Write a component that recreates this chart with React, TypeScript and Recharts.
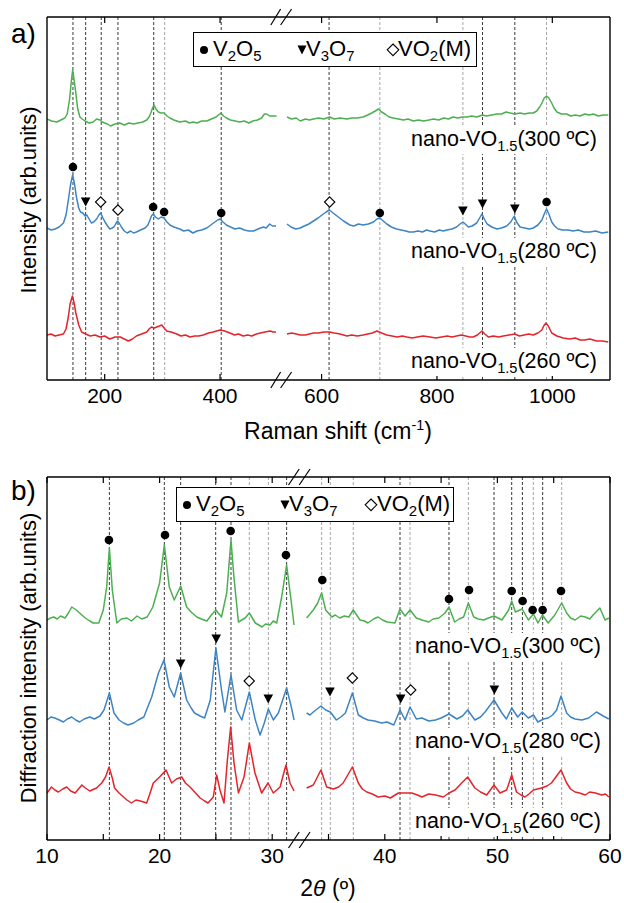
import React from "react";
import { ComposedChart, Line, Scatter, XAxis, YAxis, ReferenceLine } from "recharts";

const FONT = '"Liberation Sans", Arial, sans-serif';

// ---------- a) Raman (x: cm-1, y: arb. units) ----------
type Pt = [number, number | null];

const ramanGreen: Pt[] = [
    [100, 261], [108, 259], [117, 258], [124, 260], [131, 262], [135, 266], [139, 280], [142, 298], [144.5, 310],
    [147, 300], [150, 287], [153, 272], [157, 263], [161, 261], [166, 259], [173, 257], [180, 258], [186, 261],
    [192, 260], [196, 258], [200, 257], [205, 256], [210, 254], [218, 256], [226, 257], [234, 255], [242, 257],
    [250, 256], [258, 257], [266, 258], [273, 260], [277, 263], [280, 267], [283, 272], [285.5, 275], [289, 271],
    [293, 268], [298, 267], [303, 267], [308, 264], [313, 262], [320, 260], [330, 258], [340, 259], [347, 257],
    [353, 258], [360, 257], [368, 259], [377, 259], [385, 261], [393, 263], [397, 265], [401.6, 267], [406, 264],
    [411, 262], [418, 260], [426, 259], [434, 258], [442, 259], [450, 257], [457, 259], [465, 260], [472, 262],
    [477, 266], [481, 266], [486, 264], [492, 264], [498, 264], [520, null],
    [540, 263], [548, 261], [556, 262], [563, 259], [572, 261], [579, 260], [586, 261], [595, 262], [604, 261],
    [614, 263], [622, 261], [632, 262], [644, 261], [652, 262], [662, 262], [672, 263], [680, 265], [687, 267],
    [693, 269], [698.5, 271], [704, 268], [710, 266], [717, 263], [724, 262], [733, 261], [742, 260], [750, 261],
    [759, 259], [768, 260], [777, 259], [786, 260], [794, 261], [803, 260], [812, 262], [820, 261], [828, 263],
    [836, 262], [844, 263], [852, 263], [860, 264], [869, 263], [879, 265], [886, 264], [895, 265], [904, 266],
    [912, 266], [920, 268], [927, 267], [935, 266], [944, 267], [952, 266], [960, 267], [967, 267], [973, 269],
    [978, 273], [982, 277], [986, 282], [990, 284], [994, 282], [999, 277], [1003, 272], [1008, 268], [1016, 266],
    [1025, 266], [1032, 264], [1040, 265], [1048, 264], [1056, 266], [1064, 265], [1071, 266], [1080, 264],
    [1088, 265], [1097, 265],
];
const ramanBlue: Pt[] = [
    [100, 152], [107, 150], [114, 151], [121, 153], [128.5, 157], [133, 165], [137, 180], [141, 196], [144.5, 205],
    [148, 195], [151, 183], [155, 172], [158, 168], [162, 167], [166, 164], [169, 165], [173, 161], [177, 157],
    [181, 158], [186, 161], [190, 165], [193, 167], [197, 162], [200.5, 158], [205, 154], [209, 151], [213, 152],
    [216, 153], [219, 156], [222.4, 159], [226, 156], [229, 153], [234, 149], [239, 147], [245, 149], [250, 147],
    [255, 148], [262, 150], [270, 152], [275, 155], [278.5, 160], [281, 164], [284, 166], [288, 163], [293, 161],
    [298, 163], [302.6, 162], [308, 158], [313, 155], [320, 153], [330, 151], [337, 149], [345, 150], [353, 147],
    [360, 149], [368, 150], [377, 152], [384, 155], [391, 158], [396, 160], [400, 161], [405, 158], [411, 155],
    [418, 153], [426, 151], [434, 152], [442, 150], [450, 149], [458, 149], [466, 151], [475, 153], [480, 152],
    [486, 156], [491, 154], [497, 154], [520, null],
    [540, 156], [547, 153], [555, 151], [563, 152], [570, 154], [578, 156], [586, 159], [594, 162], [603, 166],
    [608, 168], [613.6, 170], [620, 167], [629, 163], [638, 159], [649, 155], [656, 154], [664, 156], [672, 155],
    [681, 156], [690, 158], [696, 161], [701, 162], [707, 159], [713, 156], [721, 153], [730, 151], [738, 150],
    [746, 149], [752, 148], [759, 148], [767, 149], [775, 148], [782, 150], [788, 149], [796, 148], [804, 150],
    [811, 149], [817, 150], [826, 151], [834, 153], [840, 156], [845, 158], [849, 156], [854.5, 153], [861, 154],
    [869, 157], [874, 162], [878, 166], [882, 161], [887, 156], [895, 153], [904, 151], [912, 152], [921, 154],
    [928, 158], [934, 164], [938, 158], [944, 153], [952, 152], [960, 151], [967, 152], [975, 155], [982, 160],
    [986, 166], [990, 171], [994, 166], [999, 158], [1004, 154], [1010, 151], [1018, 150], [1027, 150],
    [1036, 149], [1045, 150], [1055, 148], [1065, 148], [1075, 149], [1086, 147], [1097, 148],
];
const ramanRed: Pt[] = [
    [100, 45], [107, 46], [114, 44], [121, 45], [128.5, 46], [133, 51], [137, 63], [140, 76], [144, 84], [147, 77],
    [150, 67], [155, 55], [160, 48], [167, 46], [175, 44], [183, 45], [192, 43], [200, 44], [209, 41], [218, 43],
    [227, 43], [234, 41], [241, 39], [248, 41], [255, 44], [264, 46], [273, 48], [277, 51], [281, 53], [286, 52],
    [290, 53], [295, 54], [299, 55], [303, 52], [307.5, 49], [315, 48], [325, 46], [332, 44], [340, 45], [348, 43],
    [356, 44], [363, 44], [371, 45], [380, 47], [388, 48], [394, 49], [400, 50], [408, 49], [417, 47], [425, 45],
    [432, 46], [440, 44], [448, 45], [455, 44], [463, 46], [470, 47], [478, 48], [487, 49], [492, 48], [497, 48],
    [520, null],
    [540, 46], [548, 47], [556, 46], [563, 45], [572, 45], [579, 46], [586, 47], [595, 47], [604, 48], [614, 48],
    [622, 47], [632, 46], [644, 44], [652, 45], [662, 44], [672, 45], [680, 46], [688, 47], [696, 49], [704, 47],
    [713, 45], [722, 44], [731, 43], [740, 44], [748, 43], [757, 42], [766, 43], [776, 44], [788, 43], [798, 42],
    [808, 43], [818, 44], [826, 43], [834, 44], [842, 45], [850, 44], [857, 43], [863, 43], [870, 45], [874, 47],
    [878, 49], [883, 46], [889, 43], [898, 44], [907, 43], [915, 44], [925, 45], [935, 46], [943, 44], [951, 45],
    [959, 46], [967, 45], [975, 47], [982, 50], [985, 54], [989, 57], [993, 54], [999, 47], [1008, 44], [1019, 42],
    [1030, 41], [1040, 42], [1048, 40], [1056, 40], [1065, 41], [1077, 39], [1087, 39], [1097, 38],
];
const ramanV2O5: Pt[] = [[145, 213], [284, 173], [303, 168], [402, 167], [701, 167], [990, 178]];
const ramanV3O7: Pt[] = [[167, 178], [845, 169], [879, 176], [935, 171]];
const ramanVO2: Pt[] = [[193, 178], [223, 170], [614, 178]];
const ramanLinesDark = [145, 167, 194, 223, 285, 402, 613, 879, 935];
const ramanLinesLight = [304, 701, 845, 990];
const ramanTicks = [200, 400, 600, 800, 1000];

// ---------- b) XRD (x: 2theta deg, y: arb. units) ----------
const xrdGreen: Pt[] = [
    [10, 220], [10.3, 222], [10.6, 223], [10.9, 221], [11.2, 224], [11.6, 222], [11.9, 227], [12.2, 233], [12.6, 230],
    [13, 226], [13.4, 222], [13.8, 219], [14.1, 217], [14.6, 217], [15, 230], [15.3, 253], [15.54, 292], [15.8, 250],
    [16.2, 217], [16.6, 221], [17.1, 222], [17.5, 219], [18, 224], [18.4, 221], [18.9, 223], [19.4, 233], [20, 257],
    [20.42, 295], [20.86, 253], [21.3, 240], [21.87, 254], [22.4, 233], [22.8, 228], [23.3, 223], [23.7, 221],
    [24.2, 219], [24.6, 225], [25, 230], [25.5, 223], [25.96, 247], [26.34, 300], [26.6, 263], [27, 218],
    [27.3, 220], [27.6, 222], [27.97, 227], [28.5, 217], [29.1, 213], [29.4, 216], [29.8, 215], [30.1, 219],
    [30.4, 217], [30.84, 243], [31.28, 275], [31.64, 243], [31.94, 215], [32.5, null],
    [33.06, 222], [33.35, 226], [33.65, 230], [34.04, 237], [34.39, 247], [34.75, 230], [35.3, 223], [35.6, 225],
    [36, 222], [36.4, 224], [36.8, 223], [37.2, 230], [37.8, 220], [38.2, 219], [38.5, 217], [39, 221],
    [39.4, 223], [39.8, 220], [40.2, 218], [40.9, 217], [41.35, 231], [41.8, 224], [42.24, 230], [42.8, 222],
    [43.3, 220], [43.9, 218], [44.3, 221], [44.8, 222], [45.35, 227], [45.7, 233], [46.2, 218], [46.6, 221],
    [47, 223], [47.42, 237], [47.9, 223], [48.3, 221], [48.8, 220], [49.2, 222], [49.7, 224], [50.4, 220],
    [51, 230], [51.27, 239], [51.6, 228], [52.2, 231], [52.75, 220], [53.2, 226], [53.6, 217], [54, 225],
    [54.5, 217], [55.1, 225], [55.71, 237], [56.15, 227], [56.5, 222], [56.9, 220], [57.4, 224], [57.8, 223],
    [58.2, 221], [58.5, 225], [59.1, 232], [59.56, 220], [59.9, 222],
];
const xrdBlue: Pt[] = [
    [10, 120], [10.35, 123], [10.7, 122], [11.1, 120], [11.45, 118], [11.8, 121], [12.2, 123], [12.55, 120],
    [12.9, 118], [13.3, 121], [13.8, 123], [14.2, 121], [14.7, 124], [15.06, 130], [15.54, 147], [15.95, 127],
    [16.4, 120], [16.8, 117], [17.2, 115], [17.7, 117], [18.1, 120], [18.6, 123], [19.3, 143], [19.9, 167],
    [20.39, 180], [20.86, 153], [21.3, 143], [21.87, 167], [22.4, 140], [22.8, 132], [23.1, 127], [23.6, 124],
    [24, 122], [24.5, 140], [25, 192], [25.5, 150], [25.8, 128], [26.34, 165], [26.84, 130], [27.3, 120],
    [27.97, 148], [28.5, 120], [28.92, 105], [29.3, 117], [29.66, 131], [30.1, 120], [30.55, 127], [31.28, 152],
    [31.7, 133], [31.94, 120], [32.5, null],
    [33.06, 127], [33.35, 125], [33.65, 128], [34.33, 134], [34.75, 130], [35.16, 128], [35.7, 120], [36.1, 123],
    [36.5, 127], [37.12, 147], [37.65, 125], [38.1, 122], [38.5, 120], [39.1, 119], [39.7, 117], [40.2, 118],
    [40.8, 115], [41.35, 130], [41.8, 120], [42.24, 133], [42.8, 121], [43.3, 122], [43.9, 119], [44.5, 120],
    [45, 122], [45.7, 126], [46.4, 121], [46.9, 124], [47.36, 130], [48, 120], [48.5, 123], [48.9, 128],
    [49.7, 140], [50.4, 127], [50.8, 121], [51.27, 132], [51.8, 123], [52.2, 128], [52.75, 122], [53.2, 125],
    [53.6, 118], [54.1, 121], [54.5, 122], [54.9, 125], [55.26, 130], [55.65, 144], [56.15, 127], [56.5, 123],
    [56.9, 121], [57.5, 120], [58.1, 122], [58.8, 128], [59.4, 124], [59.9, 121],
];
const xrdRed: Pt[] = [
    [10, 47], [10.4, 53], [10.7, 50], [11, 48], [11.4, 51], [11.75, 53], [12.1, 49], [12.5, 47], [12.8, 51],
    [13.1, 55], [13.4, 52], [13.8, 49], [14.4, 52], [14.86, 57], [15.2, 63], [15.51, 73], [15.8, 62], [16, 52],
    [16.4, 47], [16.8, 43], [17.1, 40], [17.5, 37], [17.9, 40], [18.3, 39], [18.85, 37], [19.1, 45], [19.44, 57],
    [20, 63], [20.57, 70], [21.07, 57], [21.5, 61], [21.96, 63], [22.3, 57], [22.7, 53], [23.2, 47], [23.6, 42],
    [24, 39], [24.3, 37], [24.77, 43], [25.07, 65], [25.36, 50], [25.72, 37], [26.02, 80], [26.31, 113],
    [26.61, 77], [27, 47], [27.5, 63], [27.97, 97], [28.47, 67], [29.06, 47], [29.63, 57], [30.1, 47],
    [30.7, 53], [31.22, 75], [31.58, 57], [31.94, 49], [32.5, null],
    [33.06, 52], [33.65, 55], [34.33, 70], [34.84, 53], [35.43, 51], [35.9, 53], [36.3, 57], [37.12, 73],
    [37.65, 57], [38, 51], [38.4, 48], [38.9, 46], [39.4, 43], [40, 44], [40.5, 42], [41.2, 47], [41.8, 47],
    [42.4, 47], [42.9, 45], [43.3, 43], [43.9, 46], [44.5, 45], [45.2, 43], [45.7, 47], [46.24, 50], [46.83, 57],
    [47.36, 63], [48, 52], [48.5, 48], [49.05, 45], [49.7, 55], [50.23, 47], [50.82, 50], [51.27, 65], [51.7, 48],
    [52.1, 45], [52.45, 43], [52.8, 46], [53.2, 50], [53.9, 52], [54.4, 54], [54.8, 57], [55.65, 70], [56.15, 57],
    [56.5, 51], [56.9, 48], [57.3, 47], [57.8, 45], [58.2, 48], [58.7, 47], [59.26, 45], [59.6, 46], [59.9, 43],
];
const xrdV2O5: Pt[] = [
    [15.5, 300], [20.48, 305], [26.31, 309], [31.22, 285], [34.45, 260], [45.7, 241], [47.48, 250], [51.27, 249],
    [52.24, 239], [53.13, 230], [54.02, 230], [55.65, 249],
];
const xrdV3O7: Pt[] = [[21.87, 176], [25.03, 201], [29.65, 141], [35.13, 148], [41.41, 141], [49.73, 150]];
const xrdVO2: Pt[] = [[27.96, 159], [37.12, 162], [42.3, 150]];
const xrdLinesDark = [15.54, 20.42, 21.87, 24.98, 26.34, 31.28, 41.35, 45.7, 49.7, 51.27, 52.22, 54.02];
const xrdLinesLight = [27.97, 29.66, 34.39, 35.16, 37.2, 42.24, 47.42, 53.19, 55.71];
const xrdTicks = [10, 20, 30, 40, 50, 60];
const xrdMinorTicks = [15, 25, 35, 45, 55];

const sampleLabels = ["300", "280", "260"];

// raman axis is broken between ~500 and ~525 cm-1
const RAMAN_CUT = 24;
const ramanX = (v: number) => (v > 510 ? v - RAMAN_CUT : v);
const sameX = (v: number) => v;

const Y_TOP = 363;
const GREEN = "#4caf50";
const BLUE = "#3d84c4";
const RED = "#e3242b";

const rows = (pts: Pt[], f: (v: number) => number) => pts.map(([x, y]) => ({ x: f(x), y }));

const DotMark = (p: any) => <circle cx={p.cx} cy={p.cy} r={4.3} fill="#000" />;
const TriMark = (p: any) => (
    <path d={`M${p.cx - 4.8},${p.cy - 4.5}L${p.cx + 4.8},${p.cy - 4.5}L${p.cx},${p.cy + 4.5}Z`} fill="#000" />
);
const DiaMark = (p: any) => (
    <path
        d={`M${p.cx},${p.cy - 5.2}L${p.cx + 5.2},${p.cy}L${p.cx},${p.cy + 5.2}L${p.cx - 5.2},${p.cy}Z`}
        fill="#fff"
        stroke="#000"
        strokeWidth={1.1}
    />
);

const Sub = ({ children }: { children: React.ReactNode }) => (
    <span style={{ fontSize: "0.68em", position: "relative", top: "0.35em" }}>{children}</span>
);

function Panel(props: {
    top: number;
    height: number;
    plotTop: number;
    plotBottom: number;
    domain: [number, number];
    f: (v: number) => number;
    ticks: number[];
    minor: number[];
    fmt: (v: number) => string;
    series: Pt[][];
    v2o5: Pt[];
    v3o7: Pt[];
    vo2: Pt[];
    dark: number[];
    light: number[];
    cut: [number, number, number];
}) {
    const { f } = props;
    const axisLine = { stroke: "#000", strokeWidth: 1.4 };
    const colors = [GREEN, BLUE, RED];
    const tickPos = [...props.ticks, ...props.minor].map(f);
    const [c0, c1, c2] = props.cut;
    return (
        <div style={{ position: "absolute", left: 0, top: props.top }}>
            <ComposedChart
                width={624}
                height={props.height}
                margin={{ top: props.plotTop - 1, right: 13, bottom: props.height - props.plotBottom - 30, left: 46 }}
            >
                <XAxis
                    xAxisId="b"
                    type="number"
                    dataKey="x"
                    domain={props.domain}
                    allowDataOverflow
                    ticks={props.ticks.map(f)}
                    tickFormatter={props.fmt}
                    interval={0}
                    height={30}
                    tickLine={false}
                    tickSize={0}
                    tickMargin={8}
                    axisLine={axisLine}
                    tick={{ fill: "#000", fontSize: 21, fontFamily: FONT }}
                />
                <XAxis
                    xAxisId="t"
                    orientation="top"
                    type="number"
                    domain={props.domain}
                    allowDataOverflow
                    height={1}
                    tick={false}
                    tickLine={false}
                    axisLine={axisLine}
                />
                <YAxis yAxisId="l" type="number" domain={[0, Y_TOP]} allowDataOverflow width={1} tick={false} tickLine={false} axisLine={axisLine} />
                <YAxis yAxisId="r" orientation="right" type="number" domain={[0, Y_TOP]} allowDataOverflow width={1} tick={false} tickLine={false} axisLine={axisLine} />

                {props.dark.map((v) => (
                    <ReferenceLine key={"d" + v} xAxisId="b" yAxisId="l" x={f(v)} stroke="#222" strokeWidth={0.9} strokeDasharray="3 2" />
                ))}
                {props.light.map((v) => (
                    <ReferenceLine key={"l" + v} xAxisId="b" yAxisId="l" x={f(v)} stroke="#9a9a9a" strokeWidth={0.9} strokeDasharray="3 2" />
                ))}
                {tickPos.map((v) => (
                    <ReferenceLine key={"tb" + v} xAxisId="b" yAxisId="l" segment={[{ x: v, y: 0 }, { x: v, y: 6 }]} stroke="#000" strokeWidth={1.2} />
                ))}
                {tickPos.map((v) => (
                    <ReferenceLine key={"tt" + v} xAxisId="b" yAxisId="l" segment={[{ x: v, y: Y_TOP - 6 }, { x: v, y: Y_TOP }]} stroke="#000" strokeWidth={1.2} />
                ))}

                {props.series.map((s, i) => (
                    <Line
                        key={i}
                        xAxisId="b"
                        yAxisId="l"
                        data={rows(s, f)}
                        dataKey="y"
                        type="linear"
                        stroke={colors[i]}
                        strokeWidth={1.5}
                        strokeLinejoin="round"
                        dot={false}
                        connectNulls={false}
                        isAnimationActive={false}
                    />
                ))}
                <Scatter xAxisId="b" yAxisId="l" data={rows(props.v2o5, f)} dataKey="y" shape={DotMark} isAnimationActive={false} />
                <Scatter xAxisId="b" yAxisId="l" data={rows(props.v3o7, f)} dataKey="y" shape={TriMark} isAnimationActive={false} />
                <Scatter xAxisId="b" yAxisId="l" data={rows(props.vo2, f)} dataKey="y" shape={DiaMark} isAnimationActive={false} />

                {[0, Y_TOP].map((y0) =>
                    [
                        [c0, c1],
                        [c1, c2],
                    ].map(([a, b]) => (
                        <ReferenceLine
                            key={"cut" + y0 + a}
                            xAxisId="b"
                            yAxisId="l"
                            ifOverflow="visible"
                            segment={[{ x: a, y: y0 - 8 }, { x: b, y: y0 + 8 }]}
                            stroke="#000"
                            strokeWidth={1.2}
                        />
                    ))
                )}
            </ComposedChart>
        </div>
    );
}

function LegendBox({ left, top, width, pos }: { left: number; top: number; width: number; pos: number[] }) {
    const item: React.CSSProperties = { position: "absolute", top: 3, fontSize: 22, lineHeight: "26px" };
    return (
        <div
            style={{
                position: "absolute",
                left,
                top,
                width,
                height: 35,
                boxSizing: "border-box",
                border: "1.3px solid #000",
                background: "#fff",
                fontFamily: FONT,
            }}
        >
            <svg style={{ position: "absolute", left: 0, top: 0 }} width={width} height={35}>
                <circle cx={pos[0]} cy={17} r={4} fill="#000" />
                <path d={`M${pos[2] - 4.5},${12.5}L${pos[2] + 4.5},${12.5}L${pos[2]},${21.5}Z`} fill="#000" />
                <path d={`M${pos[4]},${11}L${pos[4] + 5.8},${16.8}L${pos[4]},${22.6}L${pos[4] - 5.8},${16.8}Z`} fill="#fff" stroke="#000" strokeWidth={1.1} />
            </svg>
            <span style={{ ...item, left: pos[1] }}>
                V<Sub>2</Sub>O<Sub>5</Sub>
            </span>
            <span style={{ ...item, left: pos[3] }}>
                V<Sub>3</Sub>O<Sub>7</Sub>
            </span>
            <span style={{ ...item, left: pos[5] }}>
                VO<Sub>2</Sub>(M)
            </span>
        </div>
    );
}

function SampleLabel({ right, cy, t }: { right: number; cy: number; t: string }) {
    return (
        <div
            style={{
                position: "absolute",
                right,
                top: cy - 14,
                fontSize: 21.5,
                lineHeight: "26px",
                fontFamily: FONT,
                background: "#fff",
                padding: "0 2px",
                whiteSpace: "nowrap",
            }}
        >
            nano-VO<Sub>1.5</Sub>({t} ºC)
        </div>
    );
}

const text = (extra: React.CSSProperties): React.CSSProperties => ({
    position: "absolute",
    fontFamily: FONT,
    color: "#000",
    whiteSpace: "nowrap",
    ...extra,
});

export default function App() {
    const ramanLabelY = [140, 252, 362];
    const xrdLabelY = [647, 742, 822];
    return (
        <div style={{ position: "absolute", left: 0, top: 0, width: 624, height: 903, background: "#fff", overflow: "hidden" }}>
            <Panel
                top={0}
                height={450}
                plotTop={17}
                plotBottom={380}
                domain={[100, 1100 - RAMAN_CUT]}
                f={ramanX}
                ticks={ramanTicks}
                minor={[]}
                fmt={(v) => String(Math.round(v > 510 ? v + RAMAN_CUT : v))}
                series={[ramanGreen, ramanBlue, ramanRed]}
                v2o5={ramanV2O5}
                v3o7={ramanV3O7}
                vo2={ramanVO2}
                dark={ramanLinesDark}
                light={ramanLinesLight}
                cut={[488, 505, 524]}
            />
            <Panel
                top={450}
                height={453}
                plotTop={27}
                plotBottom={390}
                domain={[10, 60]}
                f={sameX}
                ticks={xrdTicks}
                minor={xrdMinorTicks}
                fmt={(v) => String(v)}
                series={[xrdGreen, xrdBlue, xrdRed]}
                v2o5={xrdV2O5}
                v3o7={xrdV3O7}
                vo2={xrdVO2}
                dark={xrdLinesDark}
                light={xrdLinesLight}
                cut={[31.45, 32.4, 33.36]}
            />

            <LegendBox left={193} top={32} width={284} pos={[10, 19, 108, 112, 199, 204]} />
            <LegendBox left={176} top={487} width={278} pos={[10, 19, 108, 112, 194, 200]} />

            {sampleLabels.map((t, i) => (
                <SampleLabel key={"a" + t} right={25} cy={ramanLabelY[i]} t={t} />
            ))}
            {sampleLabels.map((t, i) => (
                <SampleLabel key={"b" + t} right={21} cy={xrdLabelY[i]} t={t} />
            ))}

            <div style={text({ left: 11, top: 18, fontSize: 28 })}>a)</div>
            <div style={text({ left: 11, top: 475, fontSize: 28 })}>b)</div>

            <div style={text({ left: 338, top: 431, fontSize: 23, transform: "translate(-50%,-50%)" })}>
                Raman shift (cm<sup style={{ fontSize: "0.62em" }}>-1</sup>)
            </div>
            <div style={text({ left: 328, top: 888, fontSize: 23, transform: "translate(-50%,-50%)" })}>
                2<i>θ</i> (º)
            </div>
            <div style={text({ left: 29, top: 200, fontSize: 22, transform: "translate(-50%,-50%) rotate(-90deg)" })}>
                Intensity (arb.units)
            </div>
            <div style={text({ left: 29, top: 658, fontSize: 22, transform: "translate(-50%,-50%) rotate(-90deg)" })}>
                Diffraction intensity (arb.units)
            </div>
        </div>
    );
}
